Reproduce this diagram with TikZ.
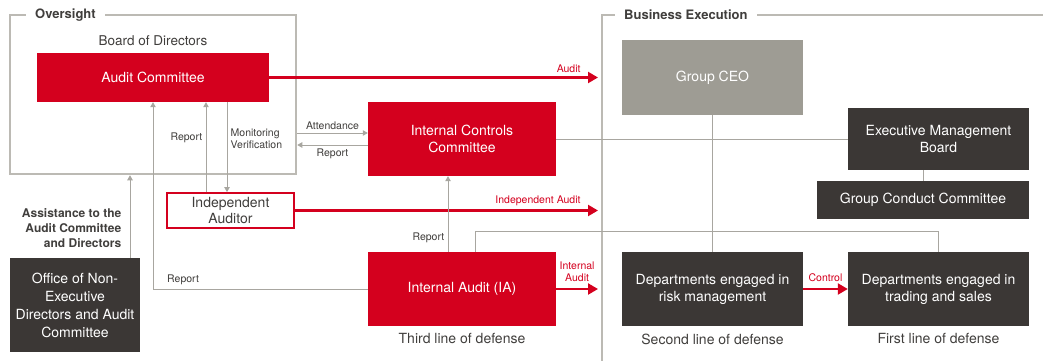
\documentclass[tikz,border=0pt]{standalone}
\usepackage{fontspec}
\setmainfont{TeX Gyre Heros}
\usetikzlibrary{arrows.meta, positioning}
\definecolor{auditred}{RGB}{212,0,30}
\definecolor{boxdark}{RGB}{59,55,53}
\definecolor{ceogray}{RGB}{158,156,148}
\definecolor{framegray}{RGB}{188,186,180}
\definecolor{linegray}{RGB}{168,166,160}
\definecolor{labelgray}{RGB}{64,62,60}

\begin{document}
\begin{tikzpicture}[x = 1pt, y = -1pt,
	box/.style = {rectangle, inner sep = 1pt, align = center, text = white, font = \fontsize{14}{17}\selectfont},
	redbox/.style = {box, fill = auditred},
	blackbox/.style = {box, fill = boxdark},
	groupframe/.style = {draw = framegray, line width = 2.5pt},
	frametitle/.style = {font = \bfseries\fontsize{13}{15}\selectfont, text = labelgray, fill = white, anchor = west, inner xsep = 9pt},
	link/.style = {draw = linegray, line width = 0.8pt},
	linkarrow/.style = {link, -{Triangle[length = 5pt, width = 5.5pt]}},
	redarrow/.style = {draw = auditred, line width = 2.2pt, -{Triangle[length = 10pt, width = 11pt]}},
	small/.style = {font = \fontsize{10.5}{12}\selectfont, text = labelgray},
	redlabel/.style = {small, text = auditred},
	defense/.style = {font = \fontsize{14}{17}\selectfont, text = labelgray}
]
			\useasboundingbox (0, 0) rectangle (1043, 361);
			
			% Frames
			\node[groupframe, minimum width = 286pt, minimum height = 159pt] (over) at (153, 94.5) {};
			\draw[groupframe] (1043, 15) -- (602, 15) -- (602, 361);
			\node[frametitle] (overtitle) at (26, 15) {Oversight};
			\node[frametitle] (biztitle) at (615, 15) {Business Execution};
			
			% Nodes
			\node[redbox, minimum width = 232pt, minimum height = 49pt] (audit) at (153, 77.5) {Audit Committee};
			\node[defense, font = \fontsize{13.5}{16}\selectfont, above = 4pt of audit] (board) {Board of Directors};
			\node[redbox, minimum width = 188pt, minimum height = 74pt] (icc) at (462, 139) {Internal Controls\\Committee};
			\node[box, draw = auditred, line width = 1.8pt, fill = white, text = labelgray, font = \fontsize{14}{16}\selectfont, minimum width = 127pt, minimum height = 35pt] (indep) at (230.5, 210.5) {Independent\\Auditor};
			\node[redbox, minimum width = 188pt, minimum height = 74pt] (ia) at (462, 289) {Internal Audit (IA)};
			\node[blackbox, font = \fontsize{14}{18}\selectfont, minimum width = 130pt, minimum height = 94pt] (office) at (75, 305) {Office of Non-\\Executive\\Directors and Audit\\Committee};
			\node[box, fill = ceogray, minimum width = 181pt, minimum height = 75pt] (ceo) at (712.5, 77.5) {Group CEO};
			\node[blackbox, minimum width = 181pt, minimum height = 62pt] (emb) at (938.5, 139) {Executive Management\\Board};
			\node[blackbox, minimum width = 212pt, minimum height = 38pt] (gcc) at (923, 200) {Group Conduct Committee};
			\node[blackbox, minimum width = 181pt, minimum height = 74pt] (risk) at (712.5, 289) {Departments engaged in\\risk management};
			\node[blackbox, minimum width = 181pt, minimum height = 74pt] (trade) at (938.5, 289) {Departments engaged in\\trading and sales};
			
			\node[defense, below = 4pt of ia] (third) {Third line of defense};
			\node[defense, below = 4pt of risk] (second) {Second line of defense};
			\node[defense, below = 4pt of trade] (first) {First line of defense};
			
			% Guides
			\coordinate (bizedge) at (598, 0);
			\coordinate (monx) at (227, 0);
			\coordinate (repx) at (206, 0);
			\coordinate (attend) at (0, 133);
			\coordinate (back) at (0, 145);
			\coordinate (iarep) at (448, 0);
			\coordinate (assist) at (130, 0);
			\coordinate (iatop) at (475, 231);
			
			% Edges
			\draw[redarrow] (audit.east) -- (audit.east -| bizedge) node[pos = 1, above left, redlabel, xshift = -13pt] {Audit};
			\draw[redarrow] (indep.east) -- (indep.east -| bizedge) node[pos = 1, above left, redlabel, xshift = -13pt] {Independent Audit};
			\draw[redarrow] (ia.east) -- (ia.east -| bizedge) node[midway, above = 3pt, redlabel, align = center] {Internal\\Audit};
			\draw[redarrow] (risk.east) -- (trade.west) node[midway, above = 3pt, redlabel] {Control};
			
			\draw[linkarrow] (ia.west) -| (audit.south) node[pos = 0.43, above, small] {Report};
			\draw[linkarrow] (indep.north -| repx) -- (audit.south -| repx) node[pos = 0.6, left, small] {Report};
			\draw[linkarrow] (audit.south -| monx) -- (indep.north -| monx) node[pos = 0.41, right, small, align = left] {Monitoring\\Verification};
			\draw[linkarrow] (over.east |- attend) -- (icc.west |- attend) node[midway, above, small] {Attendance};
			\draw[linkarrow] (icc.west |- back) -- (over.east |- back) node[midway, below, small] {Report};
			\draw[linkarrow] (ia.north -| iarep) -- (icc.south -| iarep) node[pos = 0.18, left, small] {Report};
			\draw[linkarrow] (office.north -| assist) -- (over.south -| assist) node[pos = 0.36, left = 5pt, small, font = \bfseries\fontsize{12}{15}\selectfont, align = right] {Assistance to the\\Audit Committee\\and Directors};
			\draw[link] (ceo) -- (risk);
			\draw[link] (icc.east) -- (emb.west);
			\draw[link] (gcc.north) -- (gcc.north |- emb.south);
			\draw[link] (ia.north -| iatop) -- (iatop) -| (trade.north);
\end{tikzpicture}
\end{document}
